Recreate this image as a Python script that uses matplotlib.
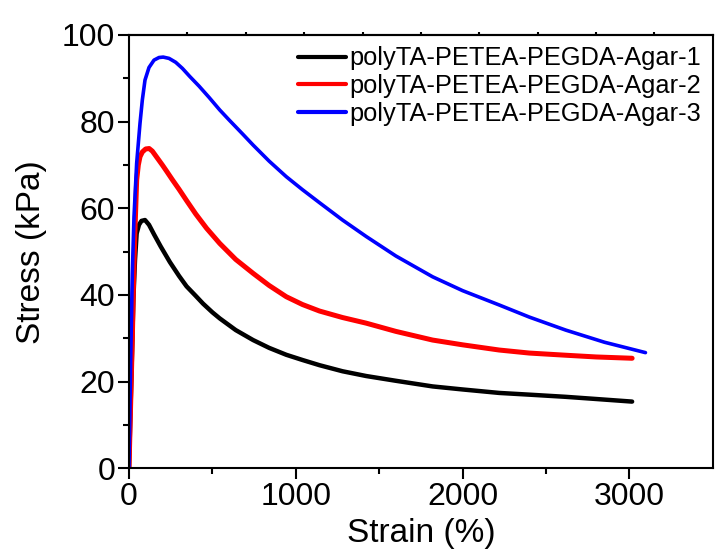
#!/usr/bin/env python3

import matplotlib
matplotlib.use('Agg')
import matplotlib.pyplot as plt

plt.rcParams.update({
    'font.family': 'Liberation Sans',
    'axes.linewidth': 1.5,
})

labels = ['polyTA-PETEA-PEGDA-Agar-1',
          'polyTA-PETEA-PEGDA-Agar-2',
          'polyTA-PETEA-PEGDA-Agar-3']
colors = ['black', 'red', 'blue']

# strain (%) and stress (kPa)
strain_1 = [0, 8, 16, 26, 36, 46, 60, 75, 96, 120, 150, 190, 245, 300, 345,
            400, 444, 500, 544, 640, 744, 840, 943, 1040, 1142, 1280, 1422,
            1600, 1820, 2000, 2219, 2400, 2618, 2800, 3016]
stress_1 = [0, 12.0, 23.4, 38.8, 48.0, 54.2, 56.2, 57.1, 57.3, 56.2, 54.0,
            51.2, 47.6, 44.4, 42.0, 39.8, 38.0, 36.0, 34.6, 31.9, 29.6, 27.8,
            26.2, 25.0, 23.8, 22.4, 21.3, 20.2, 18.9, 18.2, 17.4, 17.0, 16.5,
            16.0, 15.4]

strain_2 = [0, 10, 20, 28, 36, 46, 56, 66, 80, 100, 121, 140, 170, 200, 225,
            260, 300, 345, 400, 465, 544, 640, 744, 840, 943, 1040, 1142,
            1280, 1422, 1600, 1820, 2000, 2219, 2400, 2618, 2800, 3016]
stress_2 = [0, 15.0, 30.0, 44.0, 55.0, 66.5, 70.0, 71.9, 73.0, 73.7, 73.8,
            73.2, 71.6, 70.0, 68.6, 66.6, 64.4, 61.8, 58.7, 55.4, 51.9, 48.2,
            45.0, 42.2, 39.6, 37.8, 36.3, 34.8, 33.5, 31.6, 29.6, 28.5, 27.3,
            26.6, 26.1, 25.7, 25.4]

strain_3 = [0, 10, 20, 30, 46, 66, 80, 96, 120, 150, 180, 205, 240, 280, 320,
            365, 420, 480, 544, 600, 680, 744, 840, 943, 1040, 1142, 1280,
            1422, 1600, 1820, 2000, 2219, 2400, 2618, 2850, 3096]
stress_3 = [0, 25.0, 45.0, 58.0, 70.4, 79.6, 85.0, 89.6, 92.5, 94.2, 94.8,
            94.9, 94.6, 93.7, 92.3, 90.4, 88.2, 85.6, 82.7, 80.4, 77.2, 74.6,
            70.9, 67.3, 64.3, 61.3, 57.3, 53.5, 49.0, 44.2, 41.0, 37.7, 34.9,
            31.9, 29.1, 26.7]

series = [(strain_1, stress_1), (strain_2, stress_2), (strain_3, stress_3)]
widths = [3.2, 3.6, 2.6]

top_ticks = [350, 700, 1050, 1400, 1750, 2100, 2450, 2800, 3150]

fig = plt.figure(figsize=(7.15, 5.58), dpi=100)
ax = fig.add_axes([0.1804, 0.1607, 0.8166, 0.7766])

for (x, y), c, lw, lab in zip(series, colors, widths, labels):
    ax.plot(x, y, color=c, linewidth=lw, label=lab,
            solid_capstyle='round', solid_joinstyle='round')

ax.set_xlim(0, 3500)
ax.set_ylim(0, 100)
ax.set_xticks([0, 1000, 2000, 3000])
ax.set_xticks([500, 1500, 2500], minor=True)
ax.set_yticks([0, 20, 40, 60, 80, 100])
ax.set_yticks([10, 30, 50, 70, 90], minor=True)

ax.tick_params(axis='both', which='major', direction='out', length=8,
               width=1.5, labelsize=23, pad=2)
ax.tick_params(axis='both', which='minor', direction='out', length=4,
               width=1.5)

sec = ax.secondary_xaxis('top')
sec.set_xticks(top_ticks)
sec.set_xticklabels([])
sec.tick_params(direction='out', length=2.5, width=1.5)

ax.set_xlabel('Strain (%)', fontsize=24, labelpad=4)
ax.set_ylabel('Stress (kPa)', fontsize=24, labelpad=11)

leg = ax.legend(loc='upper right', frameon=False, fontsize=18.3,
                handlelength=1.9, labelspacing=0.15, handletextpad=0.15,
                borderaxespad=0.25, borderpad=0.2)
for h in leg.get_lines():
    h.set_linewidth(3)

fig.savefig('out.png', dpi=100)
